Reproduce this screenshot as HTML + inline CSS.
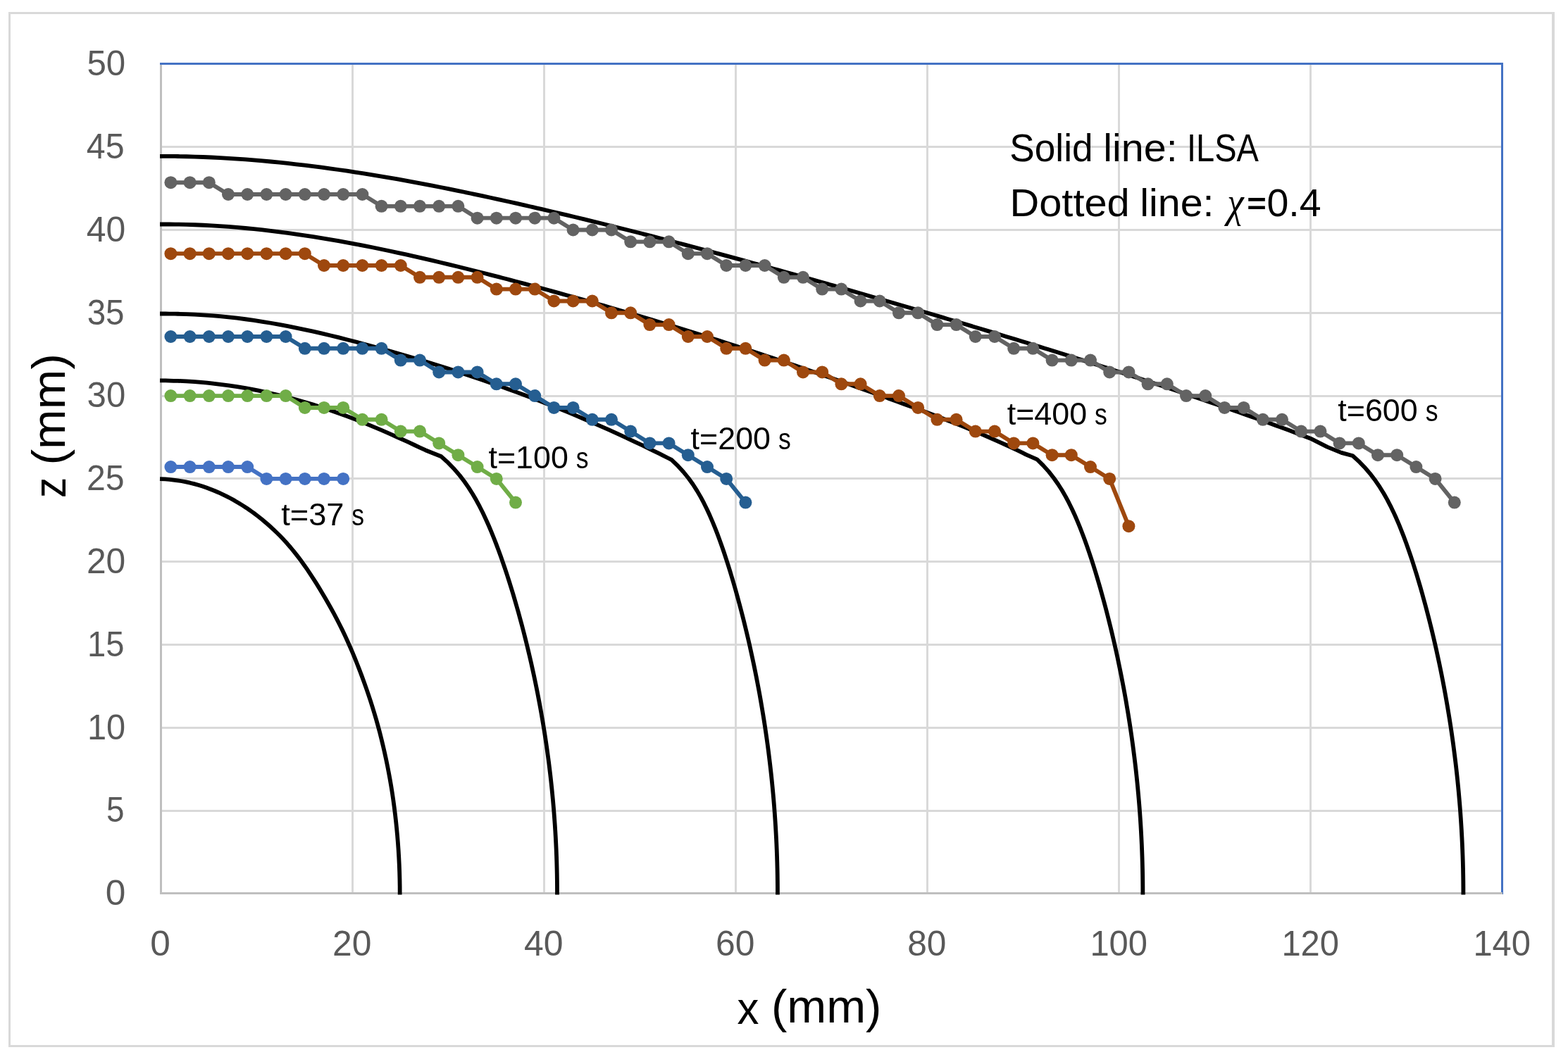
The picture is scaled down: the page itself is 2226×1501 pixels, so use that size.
<!DOCTYPE html>
<html lang="en"><head><meta charset="utf-8"><title>Spreading profiles: ILSA vs lattice model</title>
<style>html,body{margin:0;padding:0;background:#fff}svg{display:block}text{font-family:"Liberation Sans",sans-serif;white-space:pre}.tk{fill:#595959}.an{fill:#000}.b{font-weight:bold}.chi{font-family:"Liberation Serif",serif;font-style:italic;fill:#000}</style></head><body>
<svg width="2226" height="1501" viewBox="0 0 2226 1501">
<rect width="2226" height="1501" fill="#fff"/>
<path fill-rule="evenodd" fill="#D9D9D9" d="M12 17H2207V1487H12zM15 20V1484H2203V20z"/>
<path d="M227 1150h1907v3h-1907zM227 1032h1907v3h-1907zM227 914h1907v3h-1907zM227 796h1907v3h-1907zM227 678h1907v3h-1907zM227 561h1907v3h-1907zM227 443h1907v3h-1907zM227 325h1907v3h-1907zM227 207h1907v3h-1907zM499 89h3v1181h-3zM771 89h3v1181h-3zM1043 89h3v1181h-3zM1315 89h3v1181h-3zM1587 89h3v1181h-3zM1859 89h3v1181h-3z" fill="#D9D9D9"/>
<path d="M227 89H2134V1270h-3V92H227z" fill="#4472C4"/>
<path d="M227 92h3V1267H2133v3H227z" fill="#BFBFBF"/>
<path d="M227.00 680.21 L234.42 680.47 L240.34 680.90 L246.26 681.52 L252.16 682.30 L258.06 683.26 L263.94 684.39 L269.81 685.69 L275.66 687.16 L281.50 688.79 L287.32 690.60 L293.12 692.57 L298.90 694.70 L304.66 697.00 L310.40 699.46 L316.11 702.07 L321.80 704.85 L327.45 707.80 L333.08 710.91 L338.68 714.18 L344.24 717.62 L349.77 721.22 L355.26 724.99 L360.71 728.93 L366.12 733.03 L371.49 737.29 L376.81 741.72 L382.09 746.31 L387.32 751.06 L392.49 755.98 L397.62 761.06 L402.67 766.33 L407.66 771.81 L412.56 777.49 L417.39 783.36 L422.15 789.40 L426.83 795.60 L431.44 801.95 L435.99 808.44 L440.46 815.06 L444.87 821.80 L449.21 828.65 L453.50 835.61 L457.73 842.65 L461.91 849.78 L466.05 856.98 L470.14 864.26 L474.18 871.62 L478.14 879.10 L482.03 886.70 L485.85 894.41 L489.59 902.24 L493.25 910.17 L496.83 918.21 L500.34 926.36 L503.76 934.61 L507.10 942.96 L510.37 951.39 L513.59 959.90 L516.74 968.48 L519.82 977.13 L522.83 985.87 L525.76 994.69 L528.61 1003.60 L531.37 1012.59 L534.05 1021.67 L536.63 1030.84 L539.10 1040.10 L541.47 1049.45 L543.74 1058.87 L545.92 1068.36 L548.01 1077.92 L549.99 1087.54 L551.88 1097.23 L553.67 1106.97 L555.35 1116.78 L556.93 1126.64 L558.39 1136.56 L559.74 1146.53 L560.98 1156.54 L562.12 1166.59 L563.16 1176.68 L564.09 1186.80 L564.92 1196.94 L565.64 1207.12 L566.25 1217.31 L566.76 1227.52 L567.15 1237.75 L567.44 1248.00 L567.62 1258.25 L567.68 1270.50" stroke="#000" stroke-width="5.80" fill="none" stroke-linejoin="round" stroke-linecap="butt"/>
<path d="M227.00 540.41 C229.25 540.43 236.25 540.45 240.50 540.53 C244.75 540.61 248.50 540.72 252.50 540.87 C256.50 541.02 260.50 541.20 264.50 541.42 C268.50 541.64 272.50 541.90 276.50 542.19 C280.50 542.48 284.50 542.81 288.50 543.17 C292.50 543.53 296.50 543.94 300.50 544.37 C304.50 544.80 308.50 545.27 312.50 545.77 C316.50 546.27 320.50 546.81 324.50 547.38 C328.50 547.95 332.50 548.56 336.50 549.20 C340.50 549.84 344.50 550.52 348.50 551.23 C352.50 551.94 356.50 552.68 360.50 553.45 C364.50 554.23 368.50 555.03 372.50 555.88 C376.50 556.73 380.50 557.61 384.50 558.52 C388.50 559.43 392.50 560.37 396.50 561.35 C400.50 562.33 404.50 563.34 408.50 564.38 C412.50 565.42 416.50 566.49 420.50 567.60 C424.50 568.71 428.50 569.85 432.50 571.02 C436.50 572.19 440.50 573.40 444.50 574.64 C448.50 575.88 452.50 577.15 456.50 578.45 C460.50 579.75 464.50 581.08 468.50 582.45 C472.50 583.82 476.50 585.22 480.50 586.65 C484.50 588.08 488.50 589.54 492.50 591.03 C496.50 592.52 500.50 594.05 504.50 595.61 C508.50 597.17 512.50 598.76 516.50 600.38 C520.50 602.00 524.50 603.65 528.50 605.32 C532.50 606.99 536.50 608.70 540.50 610.42 C544.50 612.14 548.50 613.88 552.50 615.65 C556.50 617.41 560.50 619.21 564.50 621.01 C568.50 622.81 572.50 624.64 576.50 626.47 C580.50 628.30 583.93 629.88 588.50 632.00 C593.07 634.12 601.33 637.99 603.90 639.19 L626.50 648.30 L636.25 657.16 L644.82 666.02 L652.42 674.88 L659.23 683.74 L665.37 692.60 L670.97 701.46 L676.12 710.32 L680.89 719.18 L685.35 728.04 L689.54 736.90 L693.51 745.76 L697.28 754.62 L700.88 763.48 L704.34 772.34 L707.67 781.20 L710.88 790.06 L713.99 798.92 L717.01 807.78 L719.94 816.64 L722.79 825.50 L725.56 834.36 L728.26 843.22 L730.90 852.08 L733.46 860.94 L735.97 869.80 L738.41 878.66 L740.80 887.52 L743.12 896.38 L745.38 905.24 L747.59 914.10 L749.74 922.96 L751.84 931.82 L753.88 940.68 L755.86 949.54 L757.79 958.40 L759.66 967.26 L761.48 976.12 L763.25 984.98 L764.95 993.84 L766.61 1002.70 L768.21 1011.56 L769.75 1020.42 L771.24 1029.28 L772.68 1038.14 L774.06 1047.00 L775.39 1055.86 L776.66 1064.72 L777.88 1073.58 L779.05 1082.44 L780.16 1091.30 L781.22 1100.16 L782.22 1109.02 L783.17 1117.88 L784.06 1126.74 L784.90 1135.60 L785.69 1144.46 L786.42 1153.32 L787.09 1162.18 L787.72 1171.04 L788.29 1179.90 L788.80 1188.76 L789.26 1197.62 L789.67 1206.48 L790.02 1215.34 L790.32 1224.20 L790.56 1233.06 L790.75 1241.92 L790.89 1250.78 L790.97 1259.64 L791.00 1270.50" stroke="#000" stroke-width="5.80" fill="none" stroke-linejoin="round" stroke-linecap="butt"/>
<path d="M227.00 445.51 C229.25 445.52 236.25 445.51 240.50 445.55 C244.75 445.59 248.50 445.66 252.50 445.75 C256.50 445.84 260.50 445.96 264.50 446.11 C268.50 446.26 272.50 446.44 276.50 446.64 C280.50 446.84 284.50 447.07 288.50 447.33 C292.50 447.59 296.50 447.87 300.50 448.18 C304.50 448.49 308.50 448.83 312.50 449.20 C316.50 449.57 320.50 449.97 324.50 450.39 C328.50 450.81 332.50 451.26 336.50 451.74 C340.50 452.22 344.50 452.72 348.50 453.25 C352.50 453.78 356.50 454.34 360.50 454.93 C364.50 455.52 368.50 456.13 372.50 456.77 C376.50 457.41 380.50 458.06 384.50 458.75 C388.50 459.44 392.50 460.15 396.50 460.88 C400.50 461.61 404.50 462.36 408.50 463.14 C412.50 463.92 416.50 464.72 420.50 465.54 C424.50 466.36 428.50 467.19 432.50 468.05 C436.50 468.91 440.50 469.79 444.50 470.68 C448.50 471.57 452.50 472.49 456.50 473.42 C460.50 474.35 464.50 475.30 468.50 476.26 C472.50 477.22 476.50 478.20 480.50 479.19 C484.50 480.18 488.50 481.18 492.50 482.20 C496.50 483.22 500.50 484.25 504.50 485.29 C508.50 486.33 512.50 487.39 516.50 488.46 C520.50 489.53 524.50 490.60 528.50 491.69 C532.50 492.78 536.50 493.87 540.50 494.98 C544.50 496.09 548.50 497.20 552.50 498.33 C556.50 499.46 560.50 500.59 564.50 501.74 C568.50 502.89 572.50 504.04 576.50 505.21 C580.50 506.38 584.50 507.56 588.50 508.75 C592.50 509.94 596.50 511.14 600.50 512.35 C604.50 513.56 608.50 514.79 612.50 516.02 C616.50 517.25 620.50 518.49 624.50 519.75 C628.50 521.01 632.50 522.28 636.50 523.56 C640.50 524.84 644.50 526.13 648.50 527.43 C652.50 528.73 656.50 530.05 660.50 531.38 C664.50 532.71 668.50 534.04 672.50 535.39 C676.50 536.74 680.50 538.10 684.50 539.48 C688.50 540.86 692.50 542.25 696.50 543.65 C700.50 545.05 704.50 546.46 708.50 547.89 C712.50 549.32 716.50 550.75 720.50 552.20 C724.50 553.65 728.50 555.12 732.50 556.60 C736.50 558.08 740.50 559.57 744.50 561.07 C748.50 562.58 752.50 564.10 756.50 565.63 C760.50 567.16 764.50 568.71 768.50 570.27 C772.50 571.83 776.50 573.40 780.50 574.99 C784.50 576.58 788.50 578.17 792.50 579.79 C796.50 581.40 800.50 583.03 804.50 584.68 C808.50 586.32 812.50 587.99 816.50 589.66 C820.50 591.33 824.50 593.02 828.50 594.72 C832.50 596.42 836.50 598.15 840.50 599.88 C844.50 601.61 848.50 603.36 852.50 605.12 C856.50 606.88 860.50 608.66 864.50 610.45 C868.50 612.24 872.50 614.06 876.50 615.88 C880.50 617.70 884.50 619.54 888.50 621.40 C892.50 623.26 896.50 625.13 900.50 627.02 C904.50 628.91 908.50 630.82 912.50 632.74 C916.50 634.66 920.50 636.60 924.50 638.55 C928.50 640.50 932.50 642.47 936.50 644.46 C940.50 646.45 945.71 649.07 948.50 650.47 C951.29 651.87 952.46 652.47 953.25 652.87 L962.47 661.67 L970.50 670.46 L977.57 679.26 L983.85 688.05 L989.50 696.85 L994.62 705.64 L999.31 714.44 L1003.65 723.23 L1007.69 732.03 L1011.49 740.82 L1015.08 749.61 L1018.50 758.41 L1021.76 767.20 L1024.89 776.00 L1027.91 784.79 L1030.82 793.59 L1033.65 802.38 L1036.39 811.18 L1039.05 819.97 L1041.64 828.77 L1044.16 837.56 L1046.62 846.36 L1049.02 855.15 L1051.36 863.95 L1053.65 872.74 L1055.88 881.53 L1058.05 890.33 L1060.17 899.12 L1062.24 907.92 L1064.26 916.71 L1066.22 925.51 L1068.13 934.30 L1070.00 943.10 L1071.81 951.89 L1073.57 960.69 L1075.28 969.48 L1076.95 978.28 L1078.56 987.07 L1080.12 995.87 L1081.63 1004.66 L1083.09 1013.45 L1084.51 1022.25 L1085.87 1031.04 L1087.18 1039.84 L1088.45 1048.63 L1089.66 1057.43 L1090.83 1066.22 L1091.94 1075.02 L1093.01 1083.81 L1094.02 1092.61 L1094.99 1101.40 L1095.91 1110.20 L1096.77 1118.99 L1097.59 1127.79 L1098.36 1136.58 L1099.08 1145.37 L1099.75 1154.17 L1100.36 1162.96 L1100.93 1171.76 L1101.45 1180.55 L1101.93 1189.35 L1102.35 1198.14 L1102.72 1206.94 L1103.04 1215.73 L1103.31 1224.53 L1103.54 1233.32 L1103.71 1242.12 L1103.83 1250.91 L1103.91 1259.71 L1103.93 1270.50" stroke="#000" stroke-width="5.80" fill="none" stroke-linejoin="round" stroke-linecap="butt"/>
<path d="M227.00 318.49 C229.25 318.49 236.25 318.47 240.50 318.49 C244.75 318.51 248.50 318.56 252.50 318.62 C256.50 318.68 260.50 318.76 264.50 318.87 C268.50 318.98 272.50 319.10 276.50 319.25 C280.50 319.40 284.50 319.57 288.50 319.76 C292.50 319.95 296.50 320.15 300.50 320.38 C304.50 320.61 308.50 320.86 312.50 321.12 C316.50 321.38 320.50 321.67 324.50 321.97 C328.50 322.27 332.50 322.59 336.50 322.93 C340.50 323.27 344.50 323.62 348.50 324.00 C352.50 324.38 356.50 324.77 360.50 325.18 C364.50 325.59 368.50 326.02 372.50 326.46 C376.50 326.90 380.50 327.36 384.50 327.84 C388.50 328.32 392.50 328.81 396.50 329.32 C400.50 329.83 404.50 330.35 408.50 330.89 C412.50 331.43 416.50 331.99 420.50 332.56 C424.50 333.13 428.50 333.71 432.50 334.31 C436.50 334.91 440.50 335.53 444.50 336.16 C448.50 336.79 452.50 337.43 456.50 338.09 C460.50 338.75 464.50 339.42 468.50 340.10 C472.50 340.78 476.50 341.48 480.50 342.19 C484.50 342.90 488.50 343.62 492.50 344.35 C496.50 345.08 500.50 345.83 504.50 346.59 C508.50 347.35 512.50 348.12 516.50 348.90 C520.50 349.68 524.50 350.47 528.50 351.28 C532.50 352.08 536.50 352.90 540.50 353.73 C544.50 354.56 548.50 355.39 552.50 356.24 C556.50 357.09 560.50 357.94 564.50 358.81 C568.50 359.68 572.50 360.55 576.50 361.44 C580.50 362.33 584.50 363.23 588.50 364.13 C592.50 365.03 596.50 365.94 600.50 366.86 C604.50 367.78 608.50 368.71 612.50 369.65 C616.50 370.59 620.50 371.53 624.50 372.48 C628.50 373.43 632.50 374.39 636.50 375.36 C640.50 376.33 644.50 377.31 648.50 378.29 C652.50 379.27 656.50 380.26 660.50 381.25 C664.50 382.24 668.50 383.24 672.50 384.24 C676.50 385.25 680.50 386.26 684.50 387.28 C688.50 388.30 692.50 389.31 696.50 390.34 C700.50 391.37 704.50 392.39 708.50 393.43 C712.50 394.47 716.50 395.50 720.50 396.55 C724.50 397.60 728.50 398.64 732.50 399.70 C736.50 400.75 740.50 401.81 744.50 402.88 C748.50 403.94 752.50 405.02 756.50 406.09 C760.50 407.16 764.50 408.24 768.50 409.32 C772.50 410.40 776.50 411.49 780.50 412.58 C784.50 413.67 788.50 414.77 792.50 415.87 C796.50 416.97 800.50 418.08 804.50 419.19 C808.50 420.30 812.50 421.41 816.50 422.53 C820.50 423.65 824.50 424.77 828.50 425.90 C832.50 427.03 836.50 428.16 840.50 429.30 C844.50 430.44 848.50 431.58 852.50 432.73 C856.50 433.88 860.50 435.02 864.50 436.18 C868.50 437.34 872.50 438.50 876.50 439.67 C880.50 440.84 884.50 442.01 888.50 443.18 C892.50 444.35 896.50 445.53 900.50 446.71 C904.50 447.89 908.50 449.09 912.50 450.28 C916.50 451.47 920.50 452.67 924.50 453.87 C928.50 455.07 932.50 456.28 936.50 457.49 C940.50 458.70 944.50 459.92 948.50 461.14 C952.50 462.36 956.50 463.58 960.50 464.81 C964.50 466.04 968.50 467.27 972.50 468.51 C976.50 469.75 980.50 470.99 984.50 472.24 C988.50 473.49 992.50 474.74 996.50 476.00 C1000.50 477.26 1004.50 478.51 1008.50 479.78 C1012.50 481.04 1016.50 482.31 1020.50 483.59 C1024.50 484.87 1028.50 486.15 1032.50 487.43 C1036.50 488.71 1040.50 490.00 1044.50 491.29 C1048.50 492.58 1052.50 493.88 1056.50 495.18 C1060.50 496.48 1064.50 497.79 1068.50 499.10 C1072.50 500.41 1076.50 501.72 1080.50 503.04 C1084.50 504.36 1088.50 505.69 1092.50 507.02 C1096.50 508.35 1100.50 509.67 1104.50 511.01 C1108.50 512.35 1112.50 513.69 1116.50 515.04 C1120.50 516.39 1124.50 517.74 1128.50 519.09 C1132.50 520.45 1136.50 521.81 1140.50 523.17 C1144.50 524.53 1148.50 525.90 1152.50 527.27 C1156.50 528.64 1160.50 530.02 1164.50 531.40 C1168.50 532.78 1172.50 534.17 1176.50 535.56 C1180.50 536.95 1184.50 538.35 1188.50 539.75 C1192.50 541.15 1196.50 542.55 1200.50 543.96 C1204.50 545.37 1208.50 546.77 1212.50 548.19 C1216.50 549.61 1220.50 551.03 1224.50 552.46 C1228.50 553.89 1232.50 555.32 1236.50 556.75 C1240.50 558.18 1244.50 559.62 1248.50 561.06 C1252.50 562.50 1256.50 563.95 1260.50 565.40 C1264.50 566.85 1268.50 568.31 1272.50 569.77 C1276.50 571.23 1280.50 572.69 1284.50 574.16 C1288.50 575.63 1292.50 577.11 1296.50 578.59 C1300.50 580.07 1304.50 581.55 1308.50 583.04 C1312.50 584.53 1316.50 586.02 1320.50 587.53 C1324.50 589.03 1328.50 590.54 1332.50 592.07 C1336.50 593.60 1340.50 595.14 1344.50 596.69 C1348.50 598.24 1352.50 599.81 1356.50 601.39 C1360.50 602.97 1364.50 604.57 1368.50 606.18 C1372.50 607.79 1376.50 609.42 1380.50 611.07 C1384.50 612.72 1388.50 614.39 1392.50 616.09 C1396.50 617.79 1400.50 619.50 1404.50 621.24 C1408.50 622.98 1412.50 624.75 1416.50 626.54 C1420.50 628.33 1424.50 630.14 1428.50 631.99 C1432.50 633.84 1436.50 635.71 1440.50 637.62 C1444.50 639.53 1449.68 642.07 1452.50 643.44 C1455.32 644.82 1456.58 645.47 1457.40 645.87 L1472.20 652.30 L1481.14 661.10 L1488.97 669.91 L1495.91 678.71 L1502.10 687.51 L1507.69 696.31 L1512.78 705.12 L1517.45 713.92 L1521.79 722.72 L1525.83 731.53 L1529.64 740.33 L1533.24 749.13 L1536.67 757.93 L1539.95 766.74 L1543.10 775.54 L1546.13 784.34 L1549.06 793.15 L1551.89 801.95 L1554.64 810.75 L1557.32 819.55 L1559.92 828.36 L1562.45 837.16 L1564.92 845.96 L1567.33 854.77 L1569.68 863.57 L1571.97 872.37 L1574.20 881.17 L1576.39 889.98 L1578.51 898.78 L1580.59 907.58 L1582.61 916.39 L1584.58 925.19 L1586.50 933.99 L1588.36 942.79 L1590.18 951.60 L1591.95 960.40 L1593.66 969.20 L1595.33 978.01 L1596.94 986.81 L1598.51 995.61 L1600.02 1004.41 L1601.49 1013.22 L1602.90 1022.02 L1604.27 1030.82 L1605.58 1039.63 L1606.85 1048.43 L1608.07 1057.23 L1609.23 1066.03 L1610.35 1074.84 L1611.42 1083.64 L1612.44 1092.44 L1613.40 1101.25 L1614.32 1110.05 L1615.19 1118.85 L1616.01 1127.65 L1616.78 1136.46 L1617.50 1145.26 L1618.17 1154.06 L1618.79 1162.87 L1619.36 1171.67 L1619.88 1180.47 L1620.35 1189.27 L1620.78 1198.08 L1621.15 1206.88 L1621.47 1215.68 L1621.74 1224.49 L1621.97 1233.29 L1622.14 1242.09 L1622.26 1250.89 L1622.34 1259.70 L1622.36 1270.50" stroke="#000" stroke-width="5.80" fill="none" stroke-linejoin="round" stroke-linecap="butt"/>
<path d="M227.00 221.85 C229.25 221.85 236.25 221.85 240.50 221.88 C244.75 221.91 248.50 221.96 252.50 222.02 C256.50 222.08 260.50 222.16 264.50 222.25 C268.50 222.34 272.50 222.46 276.50 222.58 C280.50 222.71 284.50 222.84 288.50 223.00 C292.50 223.16 296.50 223.32 300.50 223.51 C304.50 223.69 308.50 223.90 312.50 224.11 C316.50 224.33 320.50 224.56 324.50 224.80 C328.50 225.05 332.50 225.31 336.50 225.58 C340.50 225.85 344.50 226.13 348.50 226.43 C352.50 226.73 356.50 227.05 360.50 227.38 C364.50 227.71 368.50 228.05 372.50 228.40 C376.50 228.75 380.50 229.12 384.50 229.50 C388.50 229.88 392.50 230.28 396.50 230.69 C400.50 231.10 404.50 231.51 408.50 231.94 C412.50 232.37 416.50 232.82 420.50 233.28 C424.50 233.74 428.50 234.20 432.50 234.68 C436.50 235.16 440.50 235.66 444.50 236.16 C448.50 236.66 452.50 237.17 456.50 237.70 C460.50 238.23 464.50 238.77 468.50 239.32 C472.50 239.87 476.50 240.43 480.50 241.00 C484.50 241.57 488.50 242.15 492.50 242.74 C496.50 243.33 500.50 243.94 504.50 244.55 C508.50 245.16 512.50 245.79 516.50 246.42 C520.50 247.05 524.50 247.70 528.50 248.35 C532.50 249.00 536.50 249.67 540.50 250.34 C544.50 251.01 548.50 251.69 552.50 252.38 C556.50 253.07 560.50 253.77 564.50 254.48 C568.50 255.19 572.50 255.91 576.50 256.64 C580.50 257.37 584.50 258.10 588.50 258.84 C592.50 259.58 596.50 260.33 600.50 261.09 C604.50 261.85 608.50 262.62 612.50 263.39 C616.50 264.16 620.50 264.95 624.50 265.74 C628.50 266.53 632.50 267.32 636.50 268.13 C640.50 268.94 644.50 269.75 648.50 270.57 C652.50 271.39 656.50 272.22 660.50 273.05 C664.50 273.88 668.50 274.73 672.50 275.57 C676.50 276.41 680.50 277.26 684.50 278.12 C688.50 278.98 692.50 279.84 696.50 280.71 C700.50 281.58 704.50 282.46 708.50 283.34 C712.50 284.22 716.50 285.11 720.50 286.00 C724.50 286.89 728.50 287.79 732.50 288.69 C736.50 289.59 740.50 290.50 744.50 291.41 C748.50 292.32 752.50 293.25 756.50 294.17 C760.50 295.09 764.50 296.01 768.50 296.94 C772.50 297.87 776.50 298.80 780.50 299.74 C784.50 300.68 788.50 301.62 792.50 302.57 C796.50 303.52 800.50 304.47 804.50 305.42 C808.50 306.37 812.50 307.33 816.50 308.29 C820.50 309.25 824.50 310.22 828.50 311.19 C832.50 312.16 836.50 313.13 840.50 314.11 C844.50 315.09 848.50 316.07 852.50 317.05 C856.50 318.03 860.50 319.02 864.50 320.01 C868.50 321.00 872.50 322.00 876.50 323.00 C880.50 324.00 884.50 325.00 888.50 326.01 C892.50 327.01 896.50 328.02 900.50 329.03 C904.50 330.04 908.50 331.06 912.50 332.08 C916.50 333.10 920.50 334.12 924.50 335.15 C928.50 336.18 932.50 337.21 936.50 338.24 C940.50 339.27 944.50 340.31 948.50 341.35 C952.50 342.39 956.50 343.43 960.50 344.47 C964.50 345.52 968.50 346.57 972.50 347.62 C976.50 348.67 980.50 349.73 984.50 350.79 C988.50 351.85 992.50 352.91 996.50 353.97 C1000.50 355.03 1004.50 356.10 1008.50 357.17 C1012.50 358.24 1016.50 359.31 1020.50 360.39 C1024.50 361.47 1028.50 362.55 1032.50 363.63 C1036.50 364.71 1040.50 365.79 1044.50 366.88 C1048.50 367.97 1052.50 369.06 1056.50 370.15 C1060.50 371.24 1064.50 372.33 1068.50 373.43 C1072.50 374.53 1076.50 375.64 1080.50 376.74 C1084.50 377.84 1088.50 378.94 1092.50 380.05 C1096.50 381.16 1100.50 382.28 1104.50 383.39 C1108.50 384.50 1112.50 385.61 1116.50 386.73 C1120.50 387.85 1124.50 388.97 1128.50 390.09 C1132.50 391.21 1136.50 392.34 1140.50 393.47 C1144.50 394.60 1148.50 395.73 1152.50 396.86 C1156.50 397.99 1160.50 399.12 1164.50 400.26 C1168.50 401.39 1172.50 402.53 1176.50 403.67 C1180.50 404.81 1184.50 405.96 1188.50 407.10 C1192.50 408.25 1196.50 409.39 1200.50 410.54 C1204.50 411.69 1208.50 412.85 1212.50 414.00 C1216.50 415.15 1220.50 416.30 1224.50 417.46 C1228.50 418.62 1232.50 419.77 1236.50 420.93 C1240.50 422.09 1244.50 423.25 1248.50 424.42 C1252.50 425.59 1256.50 426.75 1260.50 427.92 C1264.50 429.09 1268.50 430.25 1272.50 431.42 C1276.50 432.59 1280.50 433.76 1284.50 434.94 C1288.50 436.12 1292.50 437.29 1296.50 438.47 C1300.50 439.65 1304.50 440.82 1308.50 442.00 C1312.50 443.18 1316.50 444.37 1320.50 445.55 C1324.50 446.73 1328.50 447.92 1332.50 449.10 C1336.50 450.29 1340.50 451.47 1344.50 452.66 C1348.50 453.85 1352.50 455.05 1356.50 456.24 C1360.50 457.43 1364.50 458.62 1368.50 459.82 C1372.50 461.01 1376.50 462.21 1380.50 463.41 C1384.50 464.61 1388.50 465.81 1392.50 467.02 C1396.50 468.22 1400.50 469.43 1404.50 470.64 C1408.50 471.85 1412.50 473.06 1416.50 474.27 C1420.50 475.48 1424.50 476.69 1428.50 477.91 C1432.50 479.13 1436.50 480.35 1440.50 481.57 C1444.50 482.79 1448.50 484.01 1452.50 485.24 C1456.50 486.47 1460.50 487.69 1464.50 488.92 C1468.50 490.15 1472.50 491.38 1476.50 492.62 C1480.50 493.86 1484.50 495.10 1488.50 496.34 C1492.50 497.58 1496.50 498.82 1500.50 500.07 C1504.50 501.32 1508.50 502.57 1512.50 503.82 C1516.50 505.07 1520.50 506.33 1524.50 507.59 C1528.50 508.85 1532.50 510.12 1536.50 511.38 C1540.50 512.64 1544.50 513.91 1548.50 515.18 C1552.50 516.45 1556.50 517.73 1560.50 519.01 C1564.50 520.29 1568.50 521.57 1572.50 522.85 C1576.50 524.13 1580.50 525.42 1584.50 526.71 C1588.50 528.00 1592.50 529.30 1596.50 530.60 C1600.50 531.90 1604.50 533.20 1608.50 534.50 C1612.50 535.80 1616.50 537.12 1620.50 538.43 C1624.50 539.74 1628.50 541.06 1632.50 542.38 C1636.50 543.70 1640.50 545.02 1644.50 546.35 C1648.50 547.68 1652.50 549.01 1656.50 550.35 C1660.50 551.69 1664.50 553.03 1668.50 554.37 C1672.50 555.71 1676.50 557.06 1680.50 558.41 C1684.50 559.76 1688.50 561.12 1692.50 562.48 C1696.50 563.84 1700.50 565.21 1704.50 566.58 C1708.50 567.95 1712.50 569.32 1716.50 570.70 C1720.50 572.08 1724.50 573.46 1728.50 574.85 C1732.50 576.24 1736.50 577.62 1740.50 579.02 C1744.50 580.42 1748.50 581.82 1752.50 583.23 C1756.50 584.64 1760.50 586.05 1764.50 587.46 C1768.50 588.88 1772.50 590.30 1776.50 591.72 C1780.50 593.14 1784.50 594.58 1788.50 596.01 C1792.50 597.44 1796.50 598.88 1800.50 600.33 C1804.50 601.78 1808.50 603.22 1812.50 604.68 C1816.50 606.13 1820.42 607.56 1824.50 609.06 C1828.58 610.56 1834.92 612.89 1837.00 613.66 L1860.50 622.70 L1884.10 634.60 L1904.30 642.90 L1920.50 647.30 L1930.15 656.17 L1938.61 665.05 L1946.10 673.92 L1952.79 682.80 L1958.81 691.67 L1964.28 700.55 L1969.30 709.42 L1973.93 718.29 L1978.23 727.17 L1982.27 736.04 L1986.07 744.92 L1989.67 753.79 L1993.11 762.67 L1996.39 771.54 L1999.55 780.41 L2002.59 789.29 L2005.52 798.16 L2008.36 807.04 L2011.12 815.91 L2013.79 824.79 L2016.40 833.66 L2018.93 842.53 L2021.39 851.41 L2023.80 860.28 L2026.14 869.16 L2028.42 878.03 L2030.65 886.91 L2032.82 895.78 L2034.93 904.65 L2036.99 913.53 L2039.00 922.40 L2040.95 931.28 L2042.85 940.15 L2044.70 949.03 L2046.50 957.90 L2048.24 966.77 L2049.93 975.65 L2051.58 984.52 L2053.17 993.40 L2054.71 1002.27 L2056.20 1011.15 L2057.64 1020.02 L2059.03 1028.89 L2060.37 1037.77 L2061.65 1046.64 L2062.89 1055.52 L2064.07 1064.39 L2065.21 1073.27 L2066.30 1082.14 L2067.33 1091.01 L2068.31 1099.89 L2069.25 1108.76 L2070.13 1117.64 L2070.96 1126.51 L2071.74 1135.39 L2072.48 1144.26 L2073.16 1153.13 L2073.79 1162.01 L2074.37 1170.88 L2074.90 1179.76 L2075.38 1188.63 L2075.81 1197.51 L2076.18 1206.38 L2076.51 1215.25 L2076.79 1224.13 L2077.02 1233.00 L2077.19 1241.88 L2077.32 1250.75 L2077.39 1259.63 L2077.42 1270.50" stroke="#000" stroke-width="5.80" fill="none" stroke-linejoin="round" stroke-linecap="butt"/>
<g fill="#4472C4">
<path d="M242.40 663.07 L269.60 663.07 L296.80 663.07 L324.00 663.07 L351.20 663.07 L378.40 679.90 L405.60 679.90 L432.80 679.90 L460.00 679.90 L487.20 679.90" stroke="#4472C4" stroke-width="5.90" fill="none" stroke-linejoin="round" stroke-linecap="round"/>
<circle cx="242.4" cy="663.1" r="9.00"/><circle cx="269.6" cy="663.1" r="9.00"/><circle cx="296.8" cy="663.1" r="9.00"/><circle cx="324.0" cy="663.1" r="9.00"/><circle cx="351.2" cy="663.1" r="9.00"/><circle cx="378.4" cy="679.9" r="9.00"/><circle cx="405.6" cy="679.9" r="9.00"/><circle cx="432.8" cy="679.9" r="9.00"/><circle cx="460.0" cy="679.9" r="9.00"/><circle cx="487.2" cy="679.9" r="9.00"/>
</g>
<g fill="#70AD47">
<path d="M242.40 562.10 L269.60 562.10 L296.80 562.10 L324.00 562.10 L351.20 562.10 L378.40 562.10 L405.60 562.10 L432.80 578.93 L460.00 578.93 L487.20 578.93 L514.40 595.76 L541.60 595.76 L568.80 612.59 L596.00 612.59 L623.20 629.41 L650.40 646.24 L677.60 663.07 L704.80 679.90 L732.00 713.56" stroke="#70AD47" stroke-width="5.90" fill="none" stroke-linejoin="round" stroke-linecap="round"/>
<circle cx="242.4" cy="562.1" r="9.00"/><circle cx="269.6" cy="562.1" r="9.00"/><circle cx="296.8" cy="562.1" r="9.00"/><circle cx="324.0" cy="562.1" r="9.00"/><circle cx="351.2" cy="562.1" r="9.00"/><circle cx="378.4" cy="562.1" r="9.00"/><circle cx="405.6" cy="562.1" r="9.00"/><circle cx="432.8" cy="578.9" r="9.00"/><circle cx="460.0" cy="578.9" r="9.00"/><circle cx="487.2" cy="578.9" r="9.00"/><circle cx="514.4" cy="595.8" r="9.00"/><circle cx="541.6" cy="595.8" r="9.00"/><circle cx="568.8" cy="612.6" r="9.00"/><circle cx="596.0" cy="612.6" r="9.00"/><circle cx="623.2" cy="629.4" r="9.00"/><circle cx="650.4" cy="646.2" r="9.00"/><circle cx="677.6" cy="663.1" r="9.00"/><circle cx="704.8" cy="679.9" r="9.00"/><circle cx="732.0" cy="713.6" r="9.00"/>
</g>
<g fill="#255E91">
<path d="M242.40 477.96 L269.60 477.96 L296.80 477.96 L324.00 477.96 L351.20 477.96 L378.40 477.96 L405.60 477.96 L432.80 494.79 L460.00 494.79 L487.20 494.79 L514.40 494.79 L541.60 494.79 L568.80 511.61 L596.00 511.61 L623.20 528.44 L650.40 528.44 L677.60 528.44 L704.80 545.27 L732.00 545.27 L759.20 562.10 L786.40 578.93 L813.60 578.93 L840.80 595.76 L868.00 595.76 L895.20 612.59 L922.40 629.41 L949.60 629.41 L976.80 646.24 L1004.00 663.07 L1031.20 679.90 L1058.40 713.56" stroke="#255E91" stroke-width="5.90" fill="none" stroke-linejoin="round" stroke-linecap="round"/>
<circle cx="242.4" cy="478.0" r="9.00"/><circle cx="269.6" cy="478.0" r="9.00"/><circle cx="296.8" cy="478.0" r="9.00"/><circle cx="324.0" cy="478.0" r="9.00"/><circle cx="351.2" cy="478.0" r="9.00"/><circle cx="378.4" cy="478.0" r="9.00"/><circle cx="405.6" cy="478.0" r="9.00"/><circle cx="432.8" cy="494.8" r="9.00"/><circle cx="460.0" cy="494.8" r="9.00"/><circle cx="487.2" cy="494.8" r="9.00"/><circle cx="514.4" cy="494.8" r="9.00"/><circle cx="541.6" cy="494.8" r="9.00"/><circle cx="568.8" cy="511.6" r="9.00"/><circle cx="596.0" cy="511.6" r="9.00"/><circle cx="623.2" cy="528.4" r="9.00"/><circle cx="650.4" cy="528.4" r="9.00"/><circle cx="677.6" cy="528.4" r="9.00"/><circle cx="704.8" cy="545.3" r="9.00"/><circle cx="732.0" cy="545.3" r="9.00"/><circle cx="759.2" cy="562.1" r="9.00"/><circle cx="786.4" cy="578.9" r="9.00"/><circle cx="813.6" cy="578.9" r="9.00"/><circle cx="840.8" cy="595.8" r="9.00"/><circle cx="868.0" cy="595.8" r="9.00"/><circle cx="895.2" cy="612.6" r="9.00"/><circle cx="922.4" cy="629.4" r="9.00"/><circle cx="949.6" cy="629.4" r="9.00"/><circle cx="976.8" cy="646.2" r="9.00"/><circle cx="1004.0" cy="663.1" r="9.00"/><circle cx="1031.2" cy="679.9" r="9.00"/><circle cx="1058.4" cy="713.6" r="9.00"/>
</g>
<g fill="#9E480E">
<path d="M242.40 360.16 L269.60 360.16 L296.80 360.16 L324.00 360.16 L351.20 360.16 L378.40 360.16 L405.60 360.16 L432.80 360.16 L460.00 376.99 L487.20 376.99 L514.40 376.99 L541.60 376.99 L568.80 376.99 L596.00 393.81 L623.20 393.81 L650.40 393.81 L677.60 393.81 L704.80 410.64 L732.00 410.64 L759.20 410.64 L786.40 427.47 L813.60 427.47 L840.80 427.47 L868.00 444.30 L895.20 444.30 L922.40 461.13 L949.60 461.13 L976.80 477.96 L1004.00 477.96 L1031.20 494.79 L1058.40 494.79 L1085.60 511.61 L1112.80 511.61 L1140.00 528.44 L1167.20 528.44 L1194.40 545.27 L1221.60 545.27 L1248.80 562.10 L1276.00 562.10 L1303.20 578.93 L1330.40 595.76 L1357.60 595.76 L1384.80 612.59 L1412.00 612.59 L1439.20 629.41 L1466.40 629.41 L1493.60 646.24 L1520.80 646.24 L1548.00 663.07 L1575.20 679.90 L1602.40 747.21" stroke="#9E480E" stroke-width="5.90" fill="none" stroke-linejoin="round" stroke-linecap="round"/>
<circle cx="242.4" cy="360.2" r="9.00"/><circle cx="269.6" cy="360.2" r="9.00"/><circle cx="296.8" cy="360.2" r="9.00"/><circle cx="324.0" cy="360.2" r="9.00"/><circle cx="351.2" cy="360.2" r="9.00"/><circle cx="378.4" cy="360.2" r="9.00"/><circle cx="405.6" cy="360.2" r="9.00"/><circle cx="432.8" cy="360.2" r="9.00"/><circle cx="460.0" cy="377.0" r="9.00"/><circle cx="487.2" cy="377.0" r="9.00"/><circle cx="514.4" cy="377.0" r="9.00"/><circle cx="541.6" cy="377.0" r="9.00"/><circle cx="568.8" cy="377.0" r="9.00"/><circle cx="596.0" cy="393.8" r="9.00"/><circle cx="623.2" cy="393.8" r="9.00"/><circle cx="650.4" cy="393.8" r="9.00"/><circle cx="677.6" cy="393.8" r="9.00"/><circle cx="704.8" cy="410.6" r="9.00"/><circle cx="732.0" cy="410.6" r="9.00"/><circle cx="759.2" cy="410.6" r="9.00"/><circle cx="786.4" cy="427.5" r="9.00"/><circle cx="813.6" cy="427.5" r="9.00"/><circle cx="840.8" cy="427.5" r="9.00"/><circle cx="868.0" cy="444.3" r="9.00"/><circle cx="895.2" cy="444.3" r="9.00"/><circle cx="922.4" cy="461.1" r="9.00"/><circle cx="949.6" cy="461.1" r="9.00"/><circle cx="976.8" cy="478.0" r="9.00"/><circle cx="1004.0" cy="478.0" r="9.00"/><circle cx="1031.2" cy="494.8" r="9.00"/><circle cx="1058.4" cy="494.8" r="9.00"/><circle cx="1085.6" cy="511.6" r="9.00"/><circle cx="1112.8" cy="511.6" r="9.00"/><circle cx="1140.0" cy="528.4" r="9.00"/><circle cx="1167.2" cy="528.4" r="9.00"/><circle cx="1194.4" cy="545.3" r="9.00"/><circle cx="1221.6" cy="545.3" r="9.00"/><circle cx="1248.8" cy="562.1" r="9.00"/><circle cx="1276.0" cy="562.1" r="9.00"/><circle cx="1303.2" cy="578.9" r="9.00"/><circle cx="1330.4" cy="595.8" r="9.00"/><circle cx="1357.6" cy="595.8" r="9.00"/><circle cx="1384.8" cy="612.6" r="9.00"/><circle cx="1412.0" cy="612.6" r="9.00"/><circle cx="1439.2" cy="629.4" r="9.00"/><circle cx="1466.4" cy="629.4" r="9.00"/><circle cx="1493.6" cy="646.2" r="9.00"/><circle cx="1520.8" cy="646.2" r="9.00"/><circle cx="1548.0" cy="663.1" r="9.00"/><circle cx="1575.2" cy="679.9" r="9.00"/><circle cx="1602.4" cy="747.2" r="9.00"/>
</g>
<g fill="#636363">
<path d="M242.40 259.19 L269.60 259.19 L296.80 259.19 L324.00 276.01 L351.20 276.01 L378.40 276.01 L405.60 276.01 L432.80 276.01 L460.00 276.01 L487.20 276.01 L514.40 276.01 L541.60 292.84 L568.80 292.84 L596.00 292.84 L623.20 292.84 L650.40 292.84 L677.60 309.67 L704.80 309.67 L732.00 309.67 L759.20 309.67 L786.40 309.67 L813.60 326.50 L840.80 326.50 L868.00 326.50 L895.20 343.33 L922.40 343.33 L949.60 343.33 L976.80 360.16 L1004.00 360.16 L1031.20 376.99 L1058.40 376.99 L1085.60 376.99 L1112.80 393.81 L1140.00 393.81 L1167.20 410.64 L1194.40 410.64 L1221.60 427.47 L1248.80 427.47 L1276.00 444.30 L1303.20 444.30 L1330.40 461.13 L1357.60 461.13 L1384.80 477.96 L1412.00 477.96 L1439.20 494.79 L1466.40 494.79 L1493.60 511.61 L1520.80 511.61 L1548.00 511.61 L1575.20 528.44 L1602.40 528.44 L1629.60 545.27 L1656.80 545.27 L1684.00 562.10 L1711.20 562.10 L1738.40 578.93 L1765.60 578.93 L1792.80 595.76 L1820.00 595.76 L1847.20 612.59 L1874.40 612.59 L1901.60 629.41 L1928.80 629.41 L1956.00 646.24 L1983.20 646.24 L2010.40 663.07 L2037.60 679.90 L2064.80 713.56" stroke="#636363" stroke-width="5.90" fill="none" stroke-linejoin="round" stroke-linecap="round"/>
<circle cx="242.4" cy="259.2" r="9.00"/><circle cx="269.6" cy="259.2" r="9.00"/><circle cx="296.8" cy="259.2" r="9.00"/><circle cx="324.0" cy="276.0" r="9.00"/><circle cx="351.2" cy="276.0" r="9.00"/><circle cx="378.4" cy="276.0" r="9.00"/><circle cx="405.6" cy="276.0" r="9.00"/><circle cx="432.8" cy="276.0" r="9.00"/><circle cx="460.0" cy="276.0" r="9.00"/><circle cx="487.2" cy="276.0" r="9.00"/><circle cx="514.4" cy="276.0" r="9.00"/><circle cx="541.6" cy="292.8" r="9.00"/><circle cx="568.8" cy="292.8" r="9.00"/><circle cx="596.0" cy="292.8" r="9.00"/><circle cx="623.2" cy="292.8" r="9.00"/><circle cx="650.4" cy="292.8" r="9.00"/><circle cx="677.6" cy="309.7" r="9.00"/><circle cx="704.8" cy="309.7" r="9.00"/><circle cx="732.0" cy="309.7" r="9.00"/><circle cx="759.2" cy="309.7" r="9.00"/><circle cx="786.4" cy="309.7" r="9.00"/><circle cx="813.6" cy="326.5" r="9.00"/><circle cx="840.8" cy="326.5" r="9.00"/><circle cx="868.0" cy="326.5" r="9.00"/><circle cx="895.2" cy="343.3" r="9.00"/><circle cx="922.4" cy="343.3" r="9.00"/><circle cx="949.6" cy="343.3" r="9.00"/><circle cx="976.8" cy="360.2" r="9.00"/><circle cx="1004.0" cy="360.2" r="9.00"/><circle cx="1031.2" cy="377.0" r="9.00"/><circle cx="1058.4" cy="377.0" r="9.00"/><circle cx="1085.6" cy="377.0" r="9.00"/><circle cx="1112.8" cy="393.8" r="9.00"/><circle cx="1140.0" cy="393.8" r="9.00"/><circle cx="1167.2" cy="410.6" r="9.00"/><circle cx="1194.4" cy="410.6" r="9.00"/><circle cx="1221.6" cy="427.5" r="9.00"/><circle cx="1248.8" cy="427.5" r="9.00"/><circle cx="1276.0" cy="444.3" r="9.00"/><circle cx="1303.2" cy="444.3" r="9.00"/><circle cx="1330.4" cy="461.1" r="9.00"/><circle cx="1357.6" cy="461.1" r="9.00"/><circle cx="1384.8" cy="478.0" r="9.00"/><circle cx="1412.0" cy="478.0" r="9.00"/><circle cx="1439.2" cy="494.8" r="9.00"/><circle cx="1466.4" cy="494.8" r="9.00"/><circle cx="1493.6" cy="511.6" r="9.00"/><circle cx="1520.8" cy="511.6" r="9.00"/><circle cx="1548.0" cy="511.6" r="9.00"/><circle cx="1575.2" cy="528.4" r="9.00"/><circle cx="1602.4" cy="528.4" r="9.00"/><circle cx="1629.6" cy="545.3" r="9.00"/><circle cx="1656.8" cy="545.3" r="9.00"/><circle cx="1684.0" cy="562.1" r="9.00"/><circle cx="1711.2" cy="562.1" r="9.00"/><circle cx="1738.4" cy="578.9" r="9.00"/><circle cx="1765.6" cy="578.9" r="9.00"/><circle cx="1792.8" cy="595.8" r="9.00"/><circle cx="1820.0" cy="595.8" r="9.00"/><circle cx="1847.2" cy="612.6" r="9.00"/><circle cx="1874.4" cy="612.6" r="9.00"/><circle cx="1901.6" cy="629.4" r="9.00"/><circle cx="1928.8" cy="629.4" r="9.00"/><circle cx="1956.0" cy="646.2" r="9.00"/><circle cx="1983.2" cy="646.2" r="9.00"/><circle cx="2010.4" cy="663.1" r="9.00"/><circle cx="2037.6" cy="679.9" r="9.00"/><circle cx="2064.8" cy="713.6" r="9.00"/>
</g>
<text class="tk" transform="translate(150.33 1285.10)"><tspan x="-0.61" font-size="50.02" textLength="28.59" lengthAdjust="spacingAndGlyphs">0</tspan></text>
<text class="tk" transform="translate(150.33 1167.30)"><tspan x="0.62" font-size="50.02" textLength="25.49" lengthAdjust="spacingAndGlyphs">5</tspan></text>
<text class="tk" transform="translate(122.96 1049.50)"><tspan x="0.95" font-size="50.02" textLength="54.30" lengthAdjust="spacingAndGlyphs">10</tspan></text>
<text class="tk" transform="translate(122.96 931.70)"><tspan x="1.07" font-size="50.02" textLength="52.45" lengthAdjust="spacingAndGlyphs">15</tspan></text>
<text class="tk" transform="translate(122.96 813.90)"><tspan x="-0.08" font-size="50.02" textLength="55.36" lengthAdjust="spacingAndGlyphs">20</tspan></text>
<text class="tk" transform="translate(122.96 696.10)"><tspan x="0.00" font-size="50.02" textLength="53.57" lengthAdjust="spacingAndGlyphs">25</tspan></text>
<text class="tk" transform="translate(122.96 578.30)"><tspan x="0.63" font-size="50.02" textLength="54.62" lengthAdjust="spacingAndGlyphs">30</tspan></text>
<text class="tk" transform="translate(122.96 460.50)"><tspan x="0.70" font-size="50.02" textLength="52.85" lengthAdjust="spacingAndGlyphs">35</tspan></text>
<text class="tk" transform="translate(122.96 342.70)"><tspan x="-0.22" font-size="50.02" textLength="55.51" lengthAdjust="spacingAndGlyphs">40</tspan></text>
<text class="tk" transform="translate(122.96 224.90)"><tspan x="-0.19" font-size="50.02" textLength="53.76" lengthAdjust="spacingAndGlyphs">45</tspan></text>
<text class="tk" transform="translate(122.96 107.10)"><tspan x="0.48" font-size="50.02" textLength="54.78" lengthAdjust="spacingAndGlyphs">50</tspan></text>
<text class="tk" transform="translate(213.82 1357.00)"><tspan x="-0.61" font-size="50.02" textLength="28.59" lengthAdjust="spacingAndGlyphs">0</tspan></text>
<text class="tk" transform="translate(472.13 1357.00)"><tspan x="-0.08" font-size="50.02" textLength="55.36" lengthAdjust="spacingAndGlyphs">20</tspan></text>
<text class="tk" transform="translate(744.13 1357.00)"><tspan x="-0.22" font-size="50.02" textLength="55.51" lengthAdjust="spacingAndGlyphs">40</tspan></text>
<text class="tk" transform="translate(1016.13 1357.00)"><tspan x="-0.10" font-size="50.02" textLength="55.39" lengthAdjust="spacingAndGlyphs">60</tspan></text>
<text class="tk" transform="translate(1288.13 1357.00)"><tspan x="0.00" font-size="50.02" textLength="55.28" lengthAdjust="spacingAndGlyphs">80</tspan></text>
<text class="tk" transform="translate(1546.45 1357.00)"><tspan x="0.94" font-size="50.02" textLength="81.68" lengthAdjust="spacingAndGlyphs">100</tspan></text>
<text class="tk" transform="translate(1818.45 1357.00)"><tspan x="0.94" font-size="50.02" textLength="81.68" lengthAdjust="spacingAndGlyphs">120</tspan></text>
<text class="tk" transform="translate(2090.45 1357.00)"><tspan x="0.94" font-size="50.02" textLength="81.68" lengthAdjust="spacingAndGlyphs">140</tspan></text>
<text class="an" transform="translate(1046.40 1453.50)"><tspan x="0.11" font-size="65.08" textLength="30.93" lengthAdjust="spacingAndGlyphs">x</tspan> <tspan x="48.57" dy="-1.22" font-size="67.10" textLength="156.47" lengthAdjust="spacingAndGlyphs">(mm)</tspan></text>
<text class="an" transform="translate(93.10 706.90) rotate(-90)"><tspan x="-0.29" font-size="65.08" textLength="29.56" lengthAdjust="spacingAndGlyphs">z</tspan> <tspan x="46.36" dy="-1.22" font-size="67.10" textLength="158.35" lengthAdjust="spacingAndGlyphs">(mm)</tspan></text>
<text class="an" transform="translate(399.10 745.70)"><tspan x="0.11" font-size="44.26" textLength="89.26" lengthAdjust="spacingAndGlyphs">t=37</tspan> <tspan x="100.14" font-size="43.39" textLength="17.79" lengthAdjust="spacingAndGlyphs">s</tspan></text>
<text class="an" transform="translate(693.40 665.10)"><tspan x="0.12" font-size="44.26" textLength="113.36" lengthAdjust="spacingAndGlyphs">t=100</tspan> <tspan x="124.47" font-size="43.39" textLength="17.79" lengthAdjust="spacingAndGlyphs">s</tspan></text>
<text class="an" transform="translate(980.50 637.90)"><tspan x="0.12" font-size="44.26" textLength="113.36" lengthAdjust="spacingAndGlyphs">t=200</tspan> <tspan x="124.47" font-size="43.39" textLength="17.79" lengthAdjust="spacingAndGlyphs">s</tspan></text>
<text class="an" transform="translate(1429.60 603.30)"><tspan x="0.12" font-size="44.26" textLength="113.36" lengthAdjust="spacingAndGlyphs">t=400</tspan> <tspan x="124.47" font-size="43.39" textLength="17.79" lengthAdjust="spacingAndGlyphs">s</tspan></text>
<text class="an" transform="translate(1899.20 597.90)"><tspan x="0.12" font-size="44.26" textLength="113.36" lengthAdjust="spacingAndGlyphs">t=600</tspan> <tspan x="124.47" font-size="43.39" textLength="17.79" lengthAdjust="spacingAndGlyphs">s</tspan></text>
<text class="an" transform="translate(1434.10 228.90)"><tspan x="-0.80" font-size="54.90" textLength="118.29" lengthAdjust="spacingAndGlyphs">Solid</tspan> <tspan x="132.27" font-size="54.90" textLength="105.32" lengthAdjust="spacingAndGlyphs">line:</tspan> <tspan x="250.92" font-size="55.95" textLength="101.96" lengthAdjust="spacingAndGlyphs">ILSA</tspan></text>
<text class="an" transform="translate(1434.10 307.20)"><tspan x="-0.67" font-size="54.90" textLength="170.30" lengthAdjust="spacingAndGlyphs">Dotted</tspan> <tspan x="184.13" font-size="54.90" textLength="105.32" lengthAdjust="spacingAndGlyphs">line:</tspan> <tspan class="chi" x="308.15" dy="0.32" font-size="61.92" textLength="23.36" lengthAdjust="spacingAndGlyphs">χ</tspan><tspan class="b" x="336.27" dy="-3.51" font-size="42.87" textLength="27.54" lengthAdjust="spacingAndGlyphs">=</tspan><tspan x="364.39" dy="3.20" font-size="55.57" textLength="77.21" lengthAdjust="spacingAndGlyphs">0.4</tspan></text>
</svg></body></html>
